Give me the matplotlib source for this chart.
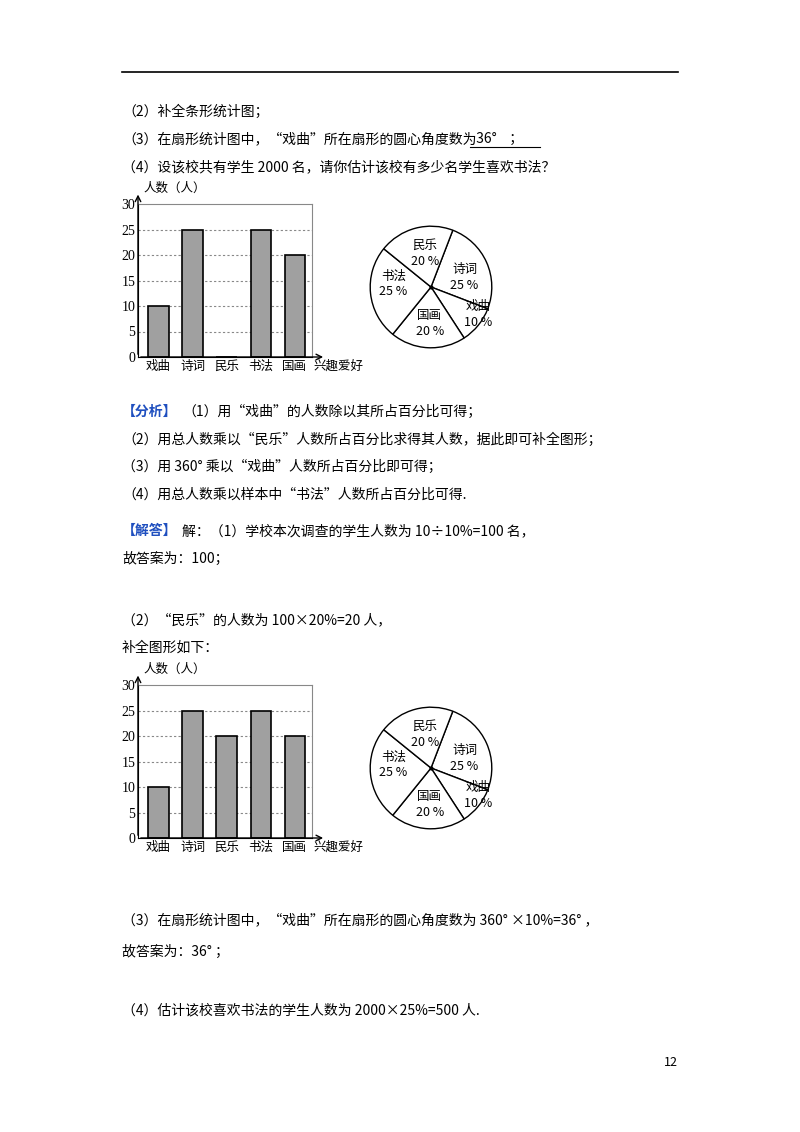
import matplotlib
matplotlib.use("Agg")
import matplotlib.pyplot as plt

plt.rcParams['font.family'] = ['Noto Sans CJK SC', 'DejaVu Sans']

categories = ["戏曲", "诗词", "民乐", "书法", "国画"]
counts_before = [10, 25, 0, 25, 20]
counts_after = [10, 25, 20, 25, 20]
pie_labels = ["诗词", "戏曲", "国画", "书法", "民乐"]
pie_pcts = [25, 10, 20, 25, 20]
yticks = [0, 5, 10, 15, 20, 25, 30]

W, H = 800, 1132
fig = plt.figure(figsize=(8, 11.32), dpi=100)

def px(x, y):
    return x / W, 1 - y / H

def text(x, y, s, **kw):
    fig.text(*px(x, y), s, fontsize=10, va='center', ha='left', **kw)

fig.add_artist(plt.Line2D([122/W, 678/W], [1-72/H]*2, color='black', lw=1.2))

lines = [
    (112, "（2）补全条形统计图；"),
    (139, "（3）在扇形统计图中，“戏曲”所在扇形的圆心角度数为"),
    (167, "（4）设该校共有学生 2000 名，请你估计该校有多少名学生喜欢书法？"),
    (440, "（2）用总人数乘以“民乐”人数所占百分比求得其人数，据此即可补全图形；"),
    (467, "（3）用 360° 乘以“戏曲”人数所占百分比即可得；"),
    (495, "（4）用总人数乘以样本中“书法”人数所占百分比可得."),
    (559, "故答案为：100；"),
    (620, "（2）“民乐”的人数为 100×20%=20 人，"),
    (648, "补全图形如下："),
    (920, "（3）在扇形统计图中，“戏曲”所在扇形的圆心角度数为 360° ×10%=36° ，"),
    (952, "故答案为：36° ；"),
    (1010, "（4）估计该校喜欢书法的学生人数为 2000×25%=500 人."),
]
for y, s in lines:
    text(122, y, s)
text(122, 412, "【分析】", color='#1f4fbf', weight='bold')
text(182, 412, "（1）用“戏曲”的人数除以其所占百分比可得；")
text(122, 531, "【解答】", color='#1f4fbf', weight='bold')
text(182, 531, "解：（1）学校本次调查的学生人数为 10÷10%=100 名，")
text(470, 139, "  36°    ；")
fig.add_artist(plt.Line2D([470/W, 540/W], [1-147/H]*2, color='black', lw=0.8))
fig.text(*px(678, 1063), "12", fontsize=9, ha='right', va='center')

def bar_chart(y0, counts):
    ax = fig.add_axes([138/W, 1-357/H-y0/H, (312-138)/W, (357-204)/H])
    x = range(len(categories))
    ax.bar(x, counts, width=0.6, color='#a0a0a0', edgecolor='black', lw=1.2, zorder=2)
    ax.set_xlim(-0.6, 4.5)
    ax.set_ylim(0, 30)
    for t in yticks[1:-1]:
        ax.axhline(t, color='#888888', ls=(0, (2, 2)), lw=0.8, zorder=0)
    ax.set_yticks(yticks)
    ax.set_yticklabels([str(t) for t in yticks], fontsize=10, family='Liberation Serif')
    ax.set_xticks(list(x))
    ax.set_xticklabels(categories, fontsize=9)
    ax.tick_params(length=0, pad=2)
    for s in ['top', 'right']:
        ax.spines[s].set_color('#888888')
    ax.annotate('', xy=(1.08, 0), xytext=(0, 0), xycoords='axes fraction',
                arrowprops=dict(arrowstyle='->', lw=1), annotation_clip=False)
    ax.annotate('', xy=(0, 1.08), xytext=(0, 0), xycoords='axes fraction',
                arrowprops=dict(arrowstyle='->', lw=1), annotation_clip=False)
    ax.text(1.01, -0.06, "兴趣爱好", transform=ax.transAxes, fontsize=9, va='center')
    ax.text(0.03, 1.1, "人数（人）", transform=ax.transAxes, fontsize=9, va='center')

def pie_chart(y0):
    r = 76
    ax = fig.add_axes([(431-r)/W, 1-(287+r)/H-y0/H, 2*r/W, 2*r/H])
    ax.pie(pie_pcts, startangle=69, counterclock=False,
           colors=['white']*5, wedgeprops=dict(edgecolor='black', lw=1))
    ax.plot(0, 0, 'k.', ms=4)
    pos = [(0.55, 0.15), (0.78, -0.45), (-0.02, -0.6), (-0.62, 0.05), (-0.1, 0.55)]
    for (px_, py_), l, p in zip(pos, pie_labels, pie_pcts):
        ax.text(px_, py_, f"{l}\n{p} %", ha='center', va='center', fontsize=9, linespacing=1.3)
    ax.set_aspect('equal')

bar_chart(0, counts_before)
pie_chart(0)
bar_chart(481, counts_after)
pie_chart(481)

fig.savefig("out.png", dpi=100)
